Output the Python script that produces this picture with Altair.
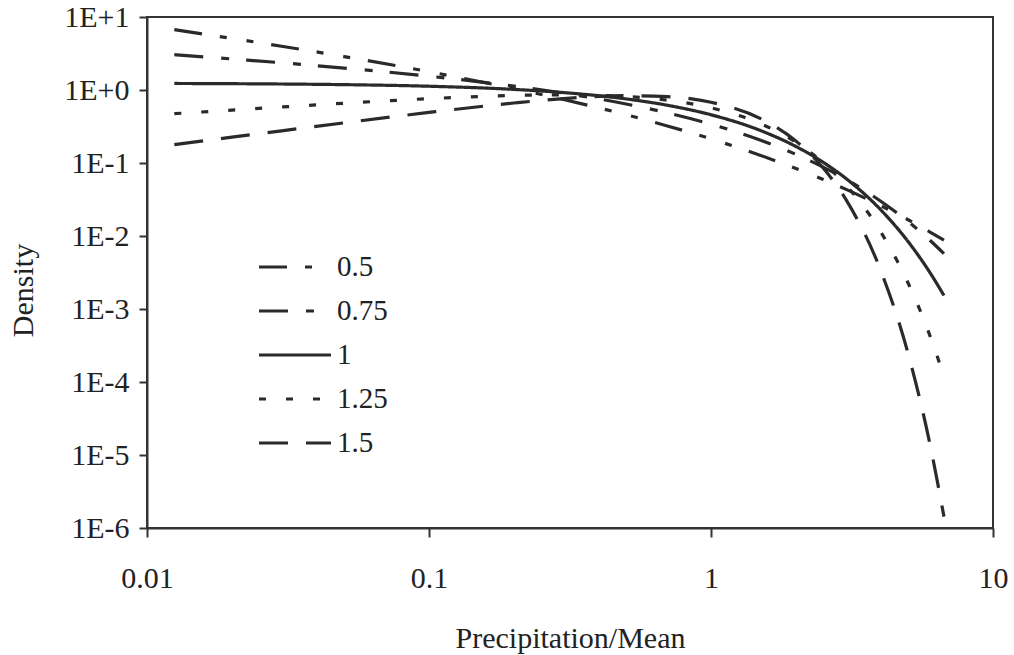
import altair as alt
import pandas as pd

# x positions (Precipitation/Mean) at which the curves were read
x_vals = [0.0125, 0.02, 0.03, 0.05, 0.1, 0.2, 0.3, 0.5, 0.7, 1, 1.5, 2, 2.5, 3, 4, 5, 6, 6.7]

# densities, one list per shape value
d_05 = [6.71, 5.09, 3.98, 2.87, 1.78, 1.045, 0.741, 0.458, 0.322, 0.214, 0.127, 0.0841,
        0.0596, 0.0439, 0.0260, 0.0167, 0.01125, 0.00875]
d_075 = [3.05, 2.66, 2.36, 1.995, 1.545, 1.132, 0.906, 0.643, 0.486, 0.340, 0.205, 0.1315,
         0.0877, 0.0603, 0.0299, 0.01574, 0.00861, 0.00573]
d_1 = [1.229, 1.220, 1.208, 1.184, 1.126, 1.019, 0.922, 0.755, 0.618, 0.458, 0.278, 0.1684,
       0.1022, 0.0620, 0.0228, 0.00839, 0.00308, 0.00153]
d_125 = [0.474, 0.531, 0.585, 0.659, 0.760, 0.842, 0.860, 0.815, 0.725, 0.570, 0.345, 0.192,
         0.1009, 0.0505, 0.01137, 0.00227, 0.000413, 0.0001192]
d_15 = [0.179, 0.226, 0.276, 0.355, 0.493, 0.663, 0.762, 0.836, 0.811, 0.679, 0.406, 0.2001,
        0.0853, 0.0322, 0.00335, 0.000245, 1.31e-5, 1.43e-6]

series = ["0.5", "0.75", "1", "1.25", "1.5"]
series_vals = [d_05, d_075, d_1, d_125, d_15]
dash_patterns = [[28, 18, 7, 20, 7, 18], [29, 18, 8, 17], [1, 0], [7, 20], [29, 18]]

x_ticks = [0.01, 0.1, 1, 10]
y_ticks = [10, 1, 0.1, 0.01, 0.001, 0.0001, 0.00001, 0.000001]

rows = []
for name, vals in zip(series, series_vals):
    for i, (xv, yv) in enumerate(zip(x_vals, vals)):
        rows.append({"x": xv, "y": yv, "series": name, "order": i})
df = pd.DataFrame(rows)

FONT = "Liberation Serif, Times New Roman, serif"
INK = "#2a2a2a"
TXT = "#222222"

chart = alt.Chart(df).mark_line(
    strokeWidth=3.2, color=INK, interpolate="monotone", strokeCap="butt"
).encode(
    x=alt.X(
        "x:Q",
        scale=alt.Scale(type="log", domain=[0.01, 10], nice=False),
        axis=alt.Axis(
            values=x_ticks, format="~g", title="Precipitation/Mean",
            labelPadding=26, tickSize=9, labelFlush=False, labelOverlap=False,
            titleY=110, titleBaseline="middle",
        ),
    ),
    y=alt.Y(
        "y:Q",
        scale=alt.Scale(type="log", domain=[0.000001, 10], nice=False),
        axis=alt.Axis(
            values=y_ticks,
            labelExpr="'1E' + (datum.value >= 1 ? '+' : '-') + format(abs(round(log(datum.value) / LN10)), 'd')",
            title="Density", labelPadding=10, tickSize=8,
            labelFlush=False, labelOverlap=False,
            titleX=-124, titleY=273, titleAngle=270,
            titleBaseline="middle", titleAlign="center",
        ),
    ),
    strokeDash=alt.StrokeDash(
        "series:N",
        scale=alt.Scale(domain=series, range=dash_patterns),
        legend=alt.Legend(
            title=None, orient="none", legendX=110, legendY=232,
            symbolType="stroke", symbolSize=5184, symbolStrokeWidth=3.2,
            symbolStrokeColor=INK, labelFont=FONT, labelFontSize=29,
            labelColor=TXT, labelOffset=4, rowPadding=8, clipHeight=36,
            padding=0,
        ),
    ),
    order=alt.Order("order:Q"),
).properties(
    width=846, height=511,
    autosize=alt.AutoSizeParams(type="none"),
    padding={"left": 147, "top": 17, "right": 21, "bottom": 127},
    background="white",
).configure_view(
    stroke="#333333", strokeWidth=2,
).configure_axis(
    grid=False, domainColor="#333333", domainWidth=2, tickColor="#333333", tickWidth=2,
    labelFont=FONT, labelFontSize=30, labelColor=TXT,
    titleFont=FONT, titleFontSize=30, titleFontWeight="normal", titleColor=TXT,
).configure_legend(
    labelFont=FONT, labelFontSize=29, labelColor=TXT,
)

chart.save("out.html", embed_options={"renderer": "svg", "actions": False})
